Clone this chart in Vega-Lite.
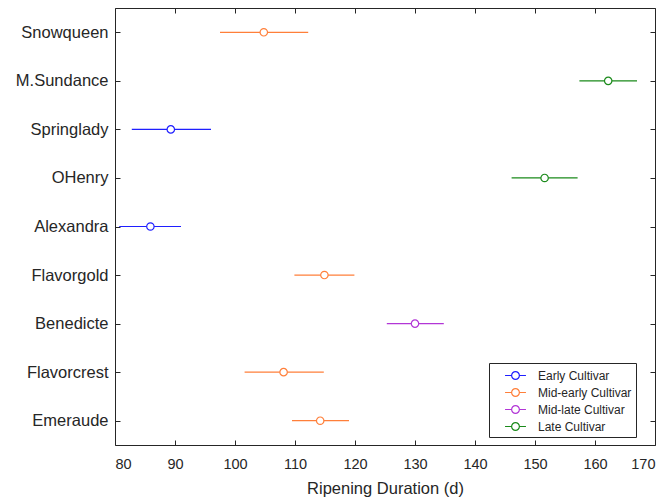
{
  "$schema": "https://vega.github.io/schema/vega-lite/v6.json",
  "width": 540,
  "height": 437,
  "autosize": "none",
  "padding": {"left": 115, "top": 8, "right": 15, "bottom": 57},
  "background": "white",
  "config": {
    "font": "Liberation Sans",
    "view": {"stroke": "#262626", "strokeWidth": 1},
    "axis": {"domainColor": "#262626", "tickColor": "#262626", "labelColor": "#262626", "titleColor": "#262626", "grid": false, "labelFont": "Liberation Sans", "titleFont": "Liberation Sans", "titleFontWeight": "normal"},
    "legend": {"labelFont": "Liberation Sans", "labelFontSize": 12, "labelColor": "#262626", "labelOffset": 14, "labelLimit": 300}
  },
  "data": {
    "values": [
      {"cultivar": "Snowqueen", "group": "Mid-early Cultivar", "mean": 104.8, "lo": 97.5, "hi": 112.2},
      {"cultivar": "M.Sundance", "group": "Late Cultivar", "mean": 162.2, "lo": 157.4, "hi": 167.0},
      {"cultivar": "Springlady", "group": "Early Cultivar", "mean": 89.3, "lo": 82.8, "hi": 96.0},
      {"cultivar": "OHenry", "group": "Late Cultivar", "mean": 151.6, "lo": 146.1, "hi": 157.1},
      {"cultivar": "Alexandra", "group": "Early Cultivar", "mean": 85.9, "lo": 80.7, "hi": 91.0},
      {"cultivar": "Flavorgold", "group": "Mid-early Cultivar", "mean": 114.9, "lo": 109.9, "hi": 119.9},
      {"cultivar": "Benedicte", "group": "Mid-late Cultivar", "mean": 130.0, "lo": 125.3, "hi": 134.8},
      {"cultivar": "Flavorcrest", "group": "Mid-early Cultivar", "mean": 108.1, "lo": 101.6, "hi": 114.8},
      {"cultivar": "Emeraude", "group": "Mid-early Cultivar", "mean": 114.2, "lo": 109.5, "hi": 119.0}
    ]
  },
  "layer": [
    {
      "mark": {"type": "rule", "strokeWidth": 1.2},
      "encoding": {
        "y": {"field": "cultivar", "type": "nominal", "sort": null,
              "scale": {"type": "point", "padding": 0.5},
              "axis": {"orient": "right", "labels": false, "title": null, "tickSize": 5, "offset": -5, "domain": false}},
        "x": {"field": "lo", "type": "quantitative",
              "scale": {"domain": [80, 170], "nice": false, "zero": false},
              "axis": {"orient": "top", "labels": false, "title": null, "tickSize": 5, "offset": -5, "domain": false, "values": [80,90,100,110,120,130,140,150,160,170]}},
        "x2": {"field": "hi"},
        "color": {"field": "group", "type": "nominal",
                  "scale": {"domain": ["Early Cultivar", "Mid-early Cultivar", "Mid-late Cultivar", "Late Cultivar"], "range": ["#1f1fff", "#ff7f3a", "#b236d6", "#1a8a1a"]},
                  "legend": {"title": null, "orient": "none", "legendX": 374, "legendY": 355,
                             "strokeColor": "#262626", "fillColor": "white", "padding": 4,
                             "symbolType": "M-1.35,0H-0.5M0.5,0H1.35M0.5,0A0.5,0.5 0 1 1 -0.5,0A0.5,0.5 0 1 1 0.5,0",
                             "symbolSize": 240, "symbolStrokeWidth": 1.2, "symbolFillColor": "white", "symbolOffset": 14,
                             "labelFontSize": 12, "labelOffset": 14, "rowPadding": 2,
                             "labelExpr": "datum.label + '\u00a0\u00a0\u00a0\u00a0'"}}
      }
    },
    {
      "mark": {"type": "point", "shape": "circle", "filled": false, "fill": "white", "size": 55, "strokeWidth": 1.2, "opacity": 1},
      "encoding": {
        "y": {"field": "cultivar", "type": "nominal", "sort": null,
              "scale": {"type": "point", "padding": 0.5},
              "axis": {"orient": "left", "title": null, "tickSize": 5, "offset": -5, "labelFontSize": 16.5, "labelPadding": 7, "domain": false}},
        "x": {"field": "mean", "type": "quantitative",
              "scale": {"domain": [80, 170], "nice": false, "zero": false},
              "axis": {"orient": "bottom", "title": "Ripening Duration (d)", "titleFontSize": 16.5, "titlePadding": 10, "tickSize": 5, "offset": -5, "labelFontSize": 14.5, "labelPadding": 12, "domain": false, "values": [80,90,100,110,120,130,140,150,160,170]}},
        "color": {"field": "group", "type": "nominal",
                  "scale": {"domain": ["Early Cultivar", "Mid-early Cultivar", "Mid-late Cultivar", "Late Cultivar"], "range": ["#1f1fff", "#ff7f3a", "#b236d6", "#1a8a1a"]},
                  "legend": {"title": null, "orient": "none", "legendX": 374, "legendY": 355,
                             "strokeColor": "#262626", "fillColor": "white", "padding": 4,
                             "symbolType": "M-1.35,0H-0.5M0.5,0H1.35M0.5,0A0.5,0.5 0 1 1 -0.5,0A0.5,0.5 0 1 1 0.5,0",
                             "symbolSize": 240, "symbolStrokeWidth": 1.2, "symbolFillColor": "white", "symbolOffset": 14,
                             "labelFontSize": 12, "labelOffset": 14, "rowPadding": 2,
                             "labelExpr": "datum.label + '\u00a0\u00a0\u00a0\u00a0'"}}
      }
    }
  ],
  "resolve": {"axis": {"x": "independent", "y": "independent"}}
}
